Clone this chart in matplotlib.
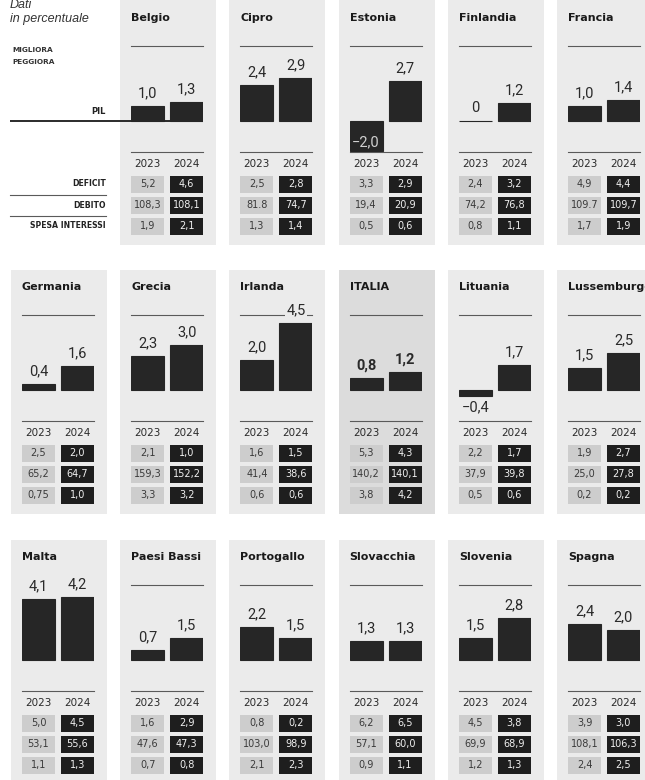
import matplotlib
matplotlib.use("Agg")
import matplotlib.pyplot as plt
from matplotlib.patches import Rectangle

# ---------------- data ----------------
countries = ["Belgio", "Cipro", "Estonia", "Finlandia", "Francia",
             "Germania", "Grecia", "Irlanda", "ITALIA", "Lituania", "Lussemburgo",
             "Malta", "Paesi Bassi", "Portogallo", "Slovacchia", "Slovenia", "Spagna"]
years = ["2023", "2024"]
pil_2023 = [1.0, 2.4, -2.0, 0.0, 1.0, 0.4, 2.3, 2.0, 0.8, -0.4, 1.5, 4.1, 0.7, 2.2, 1.3, 1.5, 2.4]
pil_2024 = [1.3, 2.9, 2.7, 1.2, 1.4, 1.6, 3.0, 4.5, 1.2, 1.7, 2.5, 4.2, 1.5, 1.5, 1.3, 2.8, 2.0]
deficit_2023 = ["5,2", "2,5", "3,3", "2,4", "4,9", "2,5", "2,1", "1,6", "5,3", "2,2", "1,9",
                "5,0", "1,6", "0,8", "6,2", "4,5", "3,9"]
deficit_2024 = ["4,6", "2,8", "2,9", "3,2", "4,4", "2,0", "1,0", "1,5", "4,3", "1,7", "2,7",
                "4,5", "2,9", "0,2", "6,5", "3,8", "3,0"]
debito_2023 = ["108,3", "81.8", "19,4", "74,2", "109.7", "65,2", "159,3", "41,4", "140,2", "37,9", "25,0",
               "53,1", "47,6", "103,0", "57,1", "69,9", "108,1"]
debito_2024 = ["108,1", "74,7", "20,9", "76,8", "109,7", "64,7", "152,2", "38,6", "140,1", "39,8", "27,8",
               "55,6", "47,3", "98,9", "60,0", "68,9", "106,3"]
interessi_2023 = ["1,9", "1,3", "0,5", "0,8", "1,7", "0,75", "3,3", "0,6", "3,8", "0,5", "0,2",
                  "1,1", "0,7", "2,1", "0,9", "1,2", "2,4"]
interessi_2024 = ["2,1", "1,4", "0,6", "1,1", "1,9", "1,0", "3,2", "0,6", "4,2", "0,6", "0,2",
                  "1,3", "0,8", "2,3", "1,1", "1,3", "2,5"]
row_labels = ["DEFICIT", "DEBITO", "SPESA INTERESSI"]
highlight = "ITALIA"

# ---------------- style ----------------
W, H = 645, 780
BAR = "#262626"
PANEL = "#ebebeb"
PANEL_HI = "#dcdcdc"
CELL_LIGHT = "#cdcdcd"
CELL_DARK = "#1e1e1e"
RULE = "#5a5a5a"
TXT = "#2a2a2a"
VAL_FONT = ["Roboto", "DejaVu Sans"]

fig = plt.figure(figsize=(W / 100, H / 100), dpi=100)
fig.patch.set_facecolor("white")

bg = fig.add_axes([0, 0, 1, 1], zorder=0)
bg.set_xlim(0, W)
bg.set_ylim(H, 0)
bg.set_axis_off()


def add_ax(x0, y0, x1, y1):
    ax = fig.add_axes([x0 / W, 1 - y1 / H, (x1 - x0) / W, (y1 - y0) / H], zorder=2)
    ax.set_axis_off()
    return ax


def fmt(v):
    if v == 0:
        return "0"
    s = f"{abs(v):.1f}".replace(".", ",")
    return ("\u2212" + s) if v < 0 else s


PX_PER_UNIT = 15.0
BW = 33 / 39  # bar width relative to pitch
XL = (-BW / 2, 1 + BW / 2)
ROW_TOP = [0, 269, 539]

# ---------------- legend column ----------------
bg.text(10, 5, "Dati", fontsize=9, style="italic", family=["Liberation Sans", "DejaVu Sans"],
        color="#333333", va="center", ha="left")
bg.text(10, 19, "in percentuale", fontsize=9, style="italic", family=["Liberation Sans", "DejaVu Sans"],
        color="#333333", va="center", ha="left")
bg.text(12, 50, "MIGLIORA", fontsize=5.3, weight="bold", color="#333333", va="center", ha="left")
bg.text(12, 62, "PEGGIORA", fontsize=5.3, weight="bold", color="#333333", va="center", ha="left")
bg.text(106, 111, "PIL", fontsize=6, weight="bold", color="#222222", va="center", ha="right")
bg.plot([10, 203], [121, 121], color="#1a1a1a", lw=1.3, zorder=5, solid_capstyle="butt")
for i, lab in enumerate(row_labels):
    yy = 184 + 21 * i
    bg.text(106, yy, lab, fontsize=5.6, weight="bold", color="#222222", va="center", ha="right")
    if i < 2:
        bg.plot([10, 106], [yy + 10.5, yy + 10.5], color=RULE, lw=0.8)

# ---------------- panels ----------------
for k, name in enumerate(countries):
    if k < 5:
        r, c = 0, k + 1
    else:
        r, c = 1 + (k - 5) // 6, (k - 5) % 6
    y0 = ROW_TOP[r]
    bx = 22 + 109.2 * c
    is_hi = name == highlight
    pcol = PANEL_HI if is_hi else PANEL

    # panel background
    top = y0 + (1 if r else -5)
    bg.add_patch(Rectangle((bx - 11, top), 96, y0 + 245 - top,
                           facecolor=pcol, edgecolor="none", zorder=1))
    # title
    bg.text(bx, y0 + 18, name, fontsize=8, weight="bold", color="#1a1a1a",
            va="center", ha="left", zorder=3)

    # bar chart
    ax = add_ax(bx, y0 + 46, bx + 72, y0 + 152)
    ax.set_xlim(*XL)
    ax.set_ylim(-31 / PX_PER_UNIT, 75 / PX_PER_UNIT)
    vals = [pil_2023[k], pil_2024[k]]
    ax.bar([0, 1], vals, width=BW, color=BAR, edgecolor=BAR, linewidth=0.8, zorder=2)
    # rules
    if name != "Malta":
        ax.plot([0, 1], [1, 1], transform=ax.transAxes, color=RULE, lw=0.8, clip_on=False, zorder=1)
    ax.plot([0, 1], [0, 0], transform=ax.transAxes, color=RULE, lw=0.8, clip_on=False, zorder=1)
    for xi, v in enumerate(vals):
        kw = dict(fontsize=10.5, family=VAL_FONT, weight="bold" if is_hi else "normal",
                  ha="center", zorder=4, clip_on=False)
        bbox = dict(boxstyle="square,pad=0.1", facecolor=pcol, edgecolor="none")
        if v >= 0:
            ax.annotate(fmt(v), (xi, v), xytext=(0, 4), textcoords="offset points",
                        va="bottom", color=TXT, bbox=bbox, **kw)
        elif v < -1:
            ax.annotate(fmt(v), (xi, v), xytext=(0, 1), textcoords="offset points",
                        va="bottom", color="#d0d0d0", **kw)
        else:
            ax.annotate(fmt(v), (xi, v), xytext=(0, -3), textcoords="offset points",
                        va="top", color=TXT, **kw)

    # table
    tx = add_ax(bx, y0 + 152, bx + 72, y0 + 240)
    tx.set_xlim(*XL)
    tx.set_ylim(88, 0)
    for xi, yr in enumerate(years):
        tx.text(xi, 12, yr, fontsize=7.5, color=TXT, ha="center", va="center")
    table = [(deficit_2023[k], deficit_2024[k]),
             (debito_2023[k], debito_2024[k]),
             (interessi_2023[k], interessi_2024[k])]
    for ri, (a, b) in enumerate(table):
        yc = 32 + 21 * ri
        tx.bar([0, 1], [17, 17], bottom=yc - 8.5, width=BW,
               color=[CELL_LIGHT, CELL_DARK], edgecolor="none")
        tx.text(0, yc, a, fontsize=7, color="#3a3a3a", ha="center", va="center")
        tx.text(1, yc, b, fontsize=7, color="#f0f0f0", ha="center", va="center")

fig.savefig("out.png", dpi=100, facecolor="white")
